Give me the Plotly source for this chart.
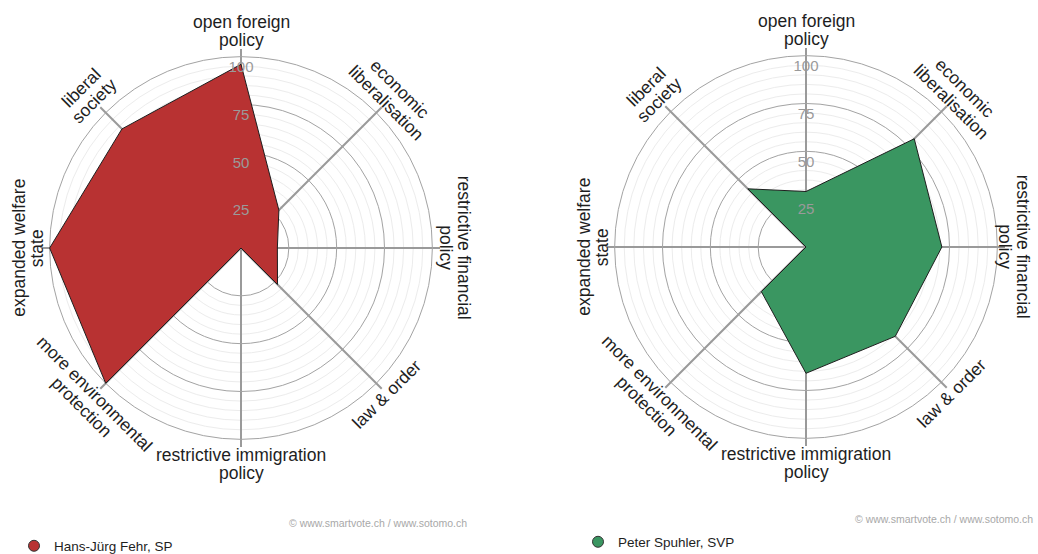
import math
import plotly.graph_objects as go

# ---------------- data ----------------
categories = [
    "open foreign policy",
    "economic liberalisation",
    "restrictive financial policy",
    "law & order",
    "restrictive immigration policy",
    "more environmental protection",
    "expanded welfare state",
    "liberal society",
]
category_label_lines = [
    ["open foreign", "policy"],
    ["economic", "liberalisation"],
    ["restrictive financial", "policy"],
    ["law & order"],
    ["restrictive immigration", "policy"],
    ["more environmental", "protection"],
    ["expanded welfare", "state"],
    ["liberal", "society"],
]
fehr_values = [96, 28, 19, 27, 0, 100, 100, 88]
spuhler_values = [29, 80, 71, 66, 66, 33, 0, 43]
candidates = ["Hans-Jürg Fehr, SP", "Peter Spuhler, SVP"]
major_ticks = [25, 50, 75, 100]
minor_ticks = [30, 35, 40, 45, 55, 60, 65, 70, 80, 85, 90, 95]
copyright_text = "© www.smartvote.ch / www.sotomo.ch"

# ---------------- style / layout ----------------
W, H = 1038, 554
R_MAX = 104
FONT = "Liberation Sans, Arial, sans-serif"
colors = ["#b83232", "#3a9661"]
centers = [(241, 248), (806, 247)]  # pixel centers (from top-left)
R_PX = 199
label_radius = [217, 215, 214, 206, 216, 216, 213, 217]   # px from centre
label_angle = [0, 45, 90, -45, 0, 45, -90, -45]           # text rotation
LINE_GAP = 18.5
label_max_x = W - 24

fig = go.Figure()
layout_polars = {}
annotations = []

for k, (vals, col, name, (cx, cy)) in enumerate(
        zip([fehr_values, spuhler_values], colors, candidates, centers)):
    dom_x = [(cx - R_PX) / W, (cx + R_PX) / W]
    dom_y = [(H - cy - R_PX) / H, (H - cy + R_PX) / H]
    minor_id = f"polar{2 * k + 1}" if k > 0 else "polar"
    major_id = f"polar{2 * k + 2}"

    # minor grid subplot (below the fill)
    fig.add_trace(go.Scatterpolar(r=[], theta=[], subplot=minor_id,
                                  showlegend=False, hoverinfo="skip"))
    layout_polars[minor_id] = dict(
        domain=dict(x=dom_x, y=dom_y),
        bgcolor="white",
        radialaxis=dict(range=[0, R_MAX], tickvals=minor_ticks,
                        showticklabels=False, ticks="", showline=False,
                        gridcolor="#ececec", gridwidth=1),
        angularaxis=dict(showgrid=False, showline=False, ticks="",
                         showticklabels=False),
    )

    # data polygon
    fig.add_trace(go.Scatterpolar(
        r=vals + [vals[0]], theta=categories + [categories[0]],
        subplot=major_id, mode="lines", fill="toself",
        fillcolor=col, line=dict(color="#1e1e1e", width=1),
        showlegend=False, hoverinfo="skip"))
    # tick labels along the top spoke
    fig.add_trace(go.Scatterpolar(
        r=[t - 6 for t in major_ticks], theta=[categories[0]] * len(major_ticks),
        subplot=major_id, mode="text", text=[str(t) for t in major_ticks],
        textfont=dict(size=15, color="#9a9a9a", family=FONT),
        textposition="middle center", showlegend=False, hoverinfo="skip"))
    # legend entry
    fig.add_trace(go.Scatterpolar(
        r=[None], theta=[categories[0]], subplot=major_id, mode="markers",
        marker=dict(size=11, color=col, line=dict(color="#333", width=1)),
        name=name, showlegend=True, legend="legend" if k == 0 else "legend2"))

    layout_polars[major_id] = dict(
        domain=dict(x=dom_x, y=dom_y),
        bgcolor="rgba(0,0,0,0)",
        radialaxis=dict(range=[0, R_MAX], tickvals=major_ticks,
                        showticklabels=False, ticks="", showline=False,
                        gridcolor="#a3a3a3", gridwidth=1.2,
                        layer="above traces"),
        angularaxis=dict(type="category", categoryarray=categories,
                         rotation=90, direction="clockwise",
                         showline=False, ticks="", showticklabels=False,
                         gridcolor="#9a9a9a", gridwidth=1.5,
                         layer="above traces"),
    )

    # axis category labels, rotated along the circle, one annotation per line
    n = len(categories)
    for i, lines in enumerate(category_label_lines):
        ang = 90 - 360 / n * i
        rp = label_radius[i]
        bx = cx + rp * math.cos(math.radians(ang))
        by = cy - rp * math.sin(math.radians(ang))
        bx = min(bx, label_max_x)
        ta = label_angle[i]
        dx, dy = -math.sin(math.radians(ta)), math.cos(math.radians(ta))
        m = len(lines)
        for j, txt in enumerate(lines):
            off = (j - (m - 1) / 2) * LINE_GAP
            x = bx + off * dx
            y = by + off * dy
            annotations.append(dict(
                x=x / W, y=(H - y) / H, xref="paper", yref="paper",
                text=txt, showarrow=False, textangle=ta,
                xanchor="center", yanchor="middle",
                font=dict(size=17.5, color="#1e1e1e", family=FONT)))

# copyright notes
annotations.append(dict(x=469 / W, y=(H - 523) / H, xref="paper", yref="paper",
                        text=copyright_text, showarrow=False,
                        xanchor="right", yanchor="middle",
                        font=dict(size=10.5, color="#a8a8a8", family=FONT)))
annotations.append(dict(x=1035 / W, y=(H - 519) / H, xref="paper", yref="paper",
                        text=copyright_text, showarrow=False,
                        xanchor="right", yanchor="middle",
                        font=dict(size=10.5, color="#a8a8a8", family=FONT)))

fig.update_layout(
    width=W, height=H,
    margin=dict(l=0, r=0, t=0, b=0, autoexpand=False),
    paper_bgcolor="white",
    font=dict(family=FONT, color="#1e1e1e"),
    annotations=annotations,
    legend=dict(x=14 / W, y=(H - 546) / H, xanchor="left", yanchor="middle",
                font=dict(size=13.5, family=FONT, color="#1e1e1e"),
                bgcolor="rgba(0,0,0,0)", itemwidth=30),
    legend2=dict(x=578 / W, y=(H - 542) / H, xanchor="left", yanchor="middle",
                 font=dict(size=13.5, family=FONT, color="#1e1e1e"),
                 bgcolor="rgba(0,0,0,0)", itemwidth=30),
    **layout_polars,
)

fig.write_html("out.html", config={"displayModeBar": False},
               post_script="document.body.style.margin='0';")
